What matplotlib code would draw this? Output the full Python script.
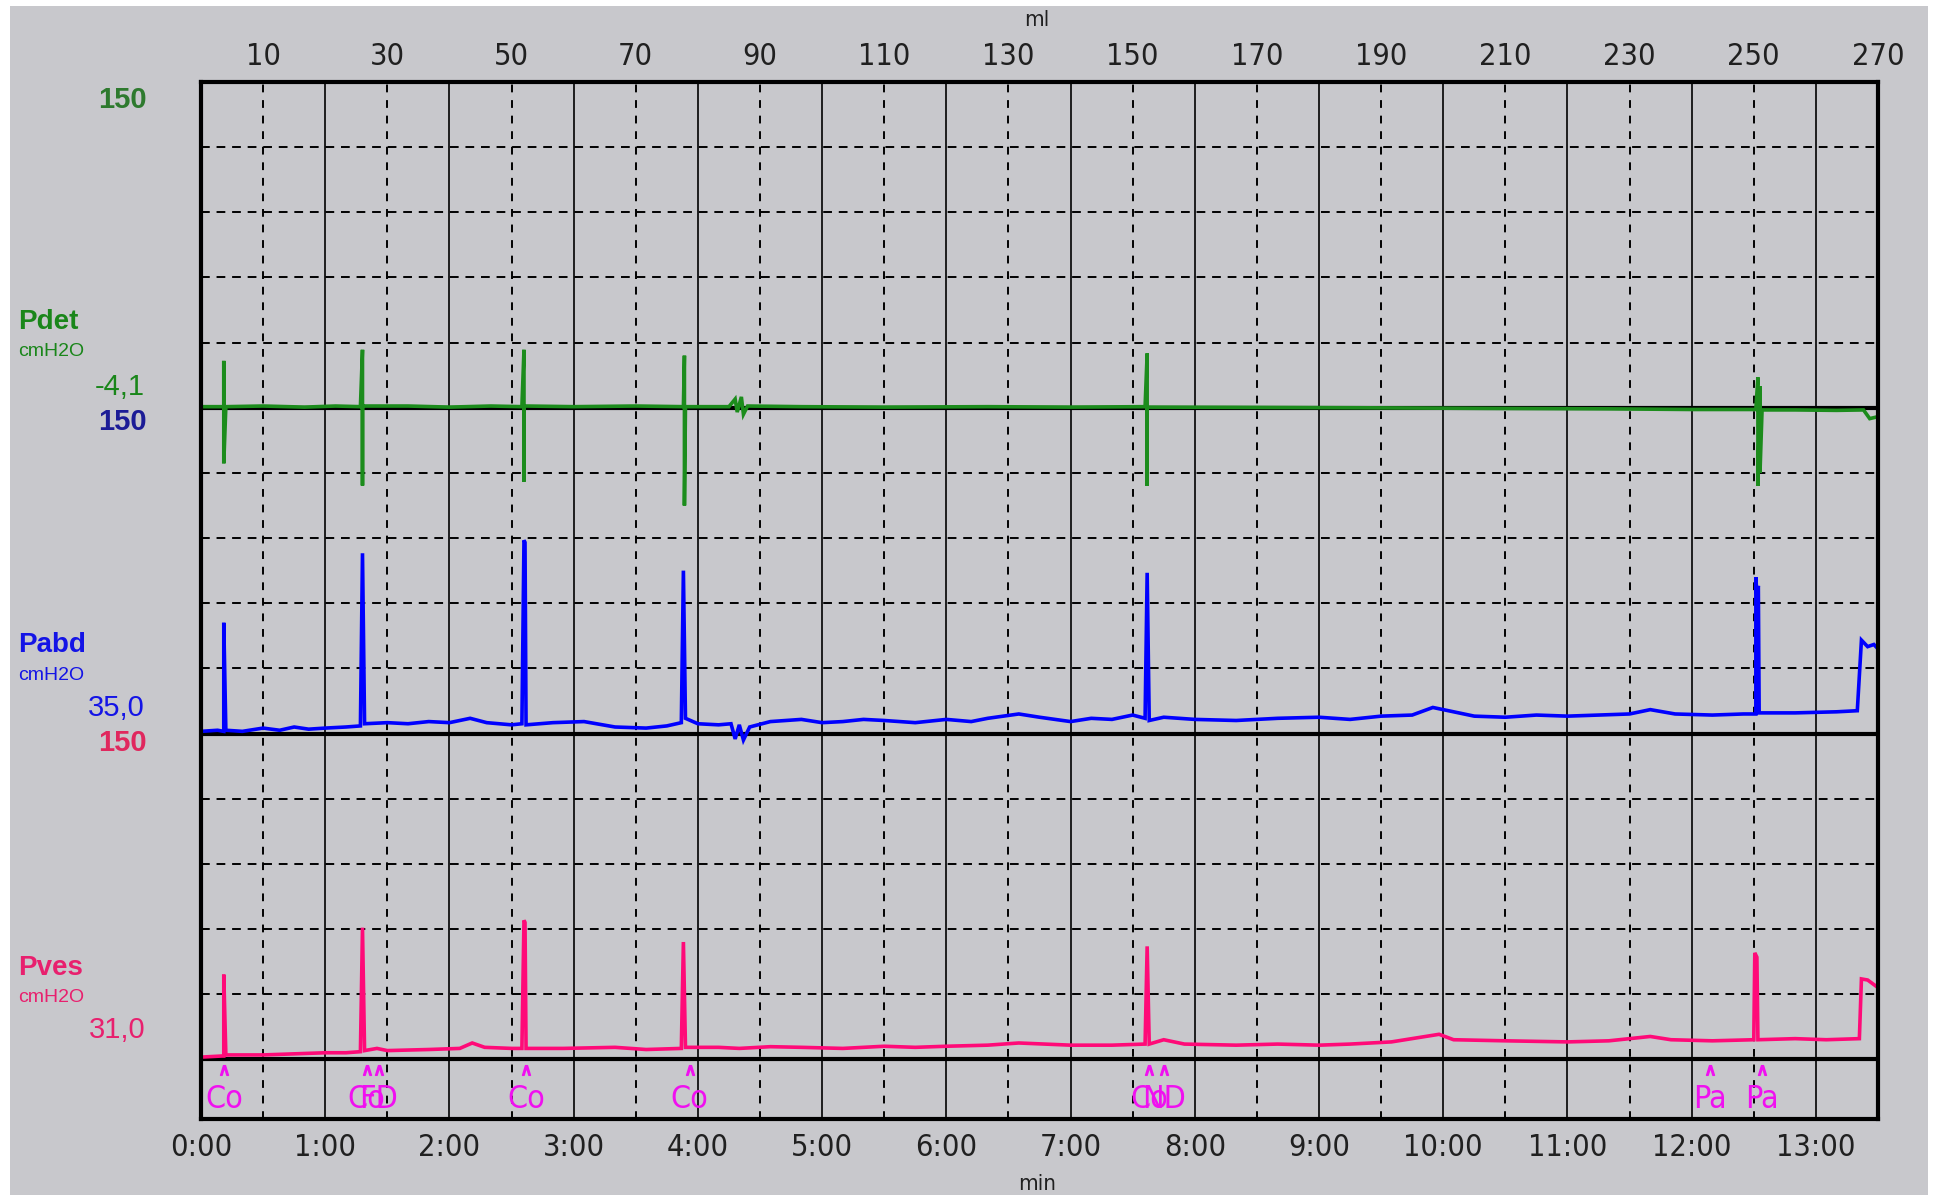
import matplotlib
matplotlib.use("Agg")
import matplotlib.pyplot as plt
from matplotlib.patches import Rectangle

W, H = 1934, 1195
BG = "#c8c8cc"
NARROW = ["Liberation Sans Narrow", "DejaVu Sans"]
WIDE = ["Liberation Sans", "DejaVu Sans"]

# time in seconds, pressure in cmH2O
pdet_t = [0, 6, 11, 11, 11, 12, 30, 50, 65, 77, 78, 78, 78, 79, 100, 120, 140, 155, 156, 156, 156, 157,
          180, 210, 233, 233.5, 233.5, 234, 255, 258, 259, 261, 262, 264, 290, 330, 380, 420, 456,
          457, 457, 457, 458, 500, 560, 620, 680, 720, 751, 752, 752, 753, 753, 754, 770, 790, 803,
          806, 810]
pdet_v = [0.5, 0.5, 0.5, 21.6, -25.6, 0.5, 0.8, 0.3, 0.8, 0.5, 26.7, -35.8, 0.5, 0.8, 0.8, 0.3, 0.8,
          0.5, 26.7, -34, 0.5, 0.8, 0.5, 0.8, 0.5, 24, -45, 0.5, 0.5, 4, -2, 5, -3, 0.8, 0.5, 0.3,
          0.5, 0.3, 0.5, 25, -36, 0.5, 0.3, 0.2, 0, -0.3, -0.5, -0.8, -0.8, 14, -36, 10, -30, -1,
          -1, -1.2, -1, -5, -4.1]

pabd_t = [0, 8, 11, 11, 12, 20, 30, 38, 45, 52, 60, 70, 77, 78, 79, 90, 100, 110, 120, 130, 138, 150,
          155, 156, 156.5, 157, 170, 185, 200, 215, 225, 232, 233, 234, 240, 250, 256, 258, 260, 262,
          265, 275, 290, 300, 310, 320, 330, 345, 360, 372, 380, 395, 405, 420, 430, 440, 450, 456,
          457, 458, 465, 480, 500, 520, 540, 555, 570, 585, 595, 605, 615, 630, 645, 660, 675, 690,
          700, 712, 730, 745, 751, 751, 751.6, 752.2, 752.6, 770, 790, 800, 802, 805, 808, 810]
pabd_v = [1, 1.5, 1, 51, 1.5, 1, 2.5, 1.5, 3, 2, 2.5, 3, 3.5, 83, 4.5, 5, 4.5, 5.5, 5, 7, 5, 4, 4.5, 89,
          88, 4, 5, 5.5, 3, 2.5, 3.5, 5, 75, 7, 4.5, 4, 4.5, -2.5, 4, -3, 3, 5.5, 6.5, 5, 5.5, 6.5,
          6, 5, 6.5, 5.5, 7, 9, 7.5, 5.5, 7, 6.5, 8.5, 7, 74, 6, 7.5, 6.5, 6, 7, 7.5, 6.5, 8, 8.5, 12,
          10, 8, 7.5, 8.5, 8, 8.5, 9, 11, 9, 8.5, 9, 9, 72, 62, 68, 9.5, 9.5, 10, 10.5, 43, 40, 41, 39]

pves_t = [0, 10, 11, 11, 12, 30, 45, 60, 70, 77, 78, 79, 85, 90, 110, 125, 131, 137, 150, 155, 156,
          156.5, 157, 175, 200, 215, 232, 233, 234, 250, 260, 275, 290, 310, 330, 345, 360, 380, 395,
          420, 440, 456, 457, 458, 465, 475, 500, 520, 540, 555, 575, 598, 605, 630, 660, 680, 700,
          710, 730, 750, 750.5, 751.5, 752, 770, 785, 801, 802, 805, 810]
pves_v = [1, 1.5, 1.5, 39, 2, 2, 2.5, 3, 3, 3.5, 60.6, 4, 5, 4, 4.5, 5, 7.5, 5.5, 5, 5, 64, 63, 5, 5,
          5.5, 4.5, 5, 54, 5.5, 5.5, 5, 5.8, 5.5, 5, 6, 5.5, 6, 6.5, 7.5, 6.5, 6.5, 7, 52, 7, 9, 7,
          6.5, 7, 6.5, 7, 8, 11.5, 9, 8.5, 8, 8.5, 10.5, 9, 8.5, 9, 49, 47, 9, 9.5, 9, 9.5, 37, 36.5,
          33]

# event marks along the bottom band
event_t = [11, 80, 86, 157, 236, 458, 465, 729, 754]
event_lbl = ["Co", "Co", "FD", "Co", "Co", "Co", "ND", "Pa", "Pa"]

minute_ticks = list(range(0, 14))
ml_ticks = [10, 30, 50, 70, 90, 110, 130, 150, 170, 190, 210, 230, 250, 270]

channels = [
    # name, offset, trace colour, name colour, scale colour, value text
    ("Pdet", 300, "#1c8c1c", "#1a861a", "#2e7a2e", "-4,1", pdet_t, pdet_v),
    ("Pabd", 150, "#0000ff", "#1414e6", "#1c1c96", "35,0", pabd_t, pabd_v),
    ("Pves", 0, "#ff0a78", "#e8206e", "#e0285e", "31,0", pves_t, pves_v),
]
MAGENTA = "#f010f0"

fig = plt.figure(figsize=(W / 100, H / 100), dpi=100, facecolor="white")
fig.patches.append(Rectangle((10 / W, 0), 1918 / W, 1 - 6 / H, transform=fig.transFigure,
                             facecolor=BG, edgecolor="none", zorder=-10))

x0, x1, y0, y1 = 201, 1878, 82, 1119
ax = fig.add_axes([x0 / W, 1 - y1 / H, (x1 - x0) / W, (y1 - y0) / H])
ax.set_facecolor(BG)
ax.set_xlim(0, 810)
ax.set_ylim(-27.5, 450)

# grid
for m in range(1, 14):
    ax.axvline(m * 60, color="black", lw=1.2, zorder=1)
for m in range(13):
    ax.axvline(m * 60 + 30, color="black", lw=1.4, ls=(0, (4, 4)), zorder=1)
for off in (0, 150, 300):
    for k in (30, 60, 90, 120):
        ax.axhline(off + k, color="black", lw=1.4, ls=(0, (4.5, 3.5)), zorder=1)
    ax.axhline(off, color="black", lw=3, zorder=2)

for name, off, c, _, _, _, t, v in channels:
    ax.plot(t, [off + p for p in v], color=c, lw=2.6, zorder=3, solid_joinstyle="miter")

ax.plot(event_t, [-5] * len(event_t), ls="none", marker=r"$\wedge$", ms=7, color=MAGENTA, zorder=4)
for t, s in zip(event_t, event_lbl):
    ax.text(t, -18.5, s, color=MAGENTA, fontsize=23, family=NARROW, fontstretch="condensed",
            ha="center", va="center", zorder=4)

for s in ax.spines.values():
    s.set_linewidth(3)
    s.set_zorder(5)

ax.set_yticks([])
ax.set_xticks([m * 60 for m in minute_ticks])
ax.set_xticklabels([f"{m}:00" for m in minute_ticks], family=NARROW, fontstretch="condensed",
                   fontsize=22, color="#202020")
ax.tick_params(axis="x", length=0, pad=10)

top = ax.secondary_xaxis("top", functions=(lambda s: s / 3, lambda ml: ml * 3))
top.set_xticks(ml_ticks)
top.set_xticklabels([str(v) for v in ml_ticks], family=NARROW, fontstretch="condensed",
                    fontsize=22, color="#202020")
top.tick_params(axis="x", length=0, pad=8)
top.spines["top"].set_visible(False)

fig.text(1037 / W, 1 - 20 / H, "ml", family=NARROW, fontstretch="condensed", fontsize=16,
         ha="center", va="center", color="#202020")
fig.text(1037 / W, 1 - 1184 / H, "min", family=NARROW, fontstretch="condensed", fontsize=16,
         ha="center", va="center", color="#202020")


def px(x, y):
    return x / W, 1 - y / H


# channel labels on the left
label_y = {"Pdet": (322, 352, 387), "Pabd": (645, 675, 708), "Pves": (968, 997, 1030)}
for name, off, c, cname, cscale, val, _, _ in channels:
    yn, yu, yv = label_y[name]
    fig.text(*px(18, yn), name, color=cname, family=WIDE, fontsize=20, fontweight="bold", va="center")
    fig.text(*px(18, yu), "cmH2O", color=cname, family=WIDE, fontsize=14, va="center")
    fig.text(*px(145, yv), val, color=cname, family=WIDE, fontsize=21, ha="right", va="center")

scale_y = [100, 422, 743]
for (name, off, c, cname, cscale, *_), yy in zip(channels, scale_y):
    fig.text(*px(147, yy), "150", color=cscale, family=WIDE, fontsize=21, fontweight="bold",
             ha="right", va="center")

fig.savefig("out.png", dpi=100, facecolor=fig.get_facecolor())
